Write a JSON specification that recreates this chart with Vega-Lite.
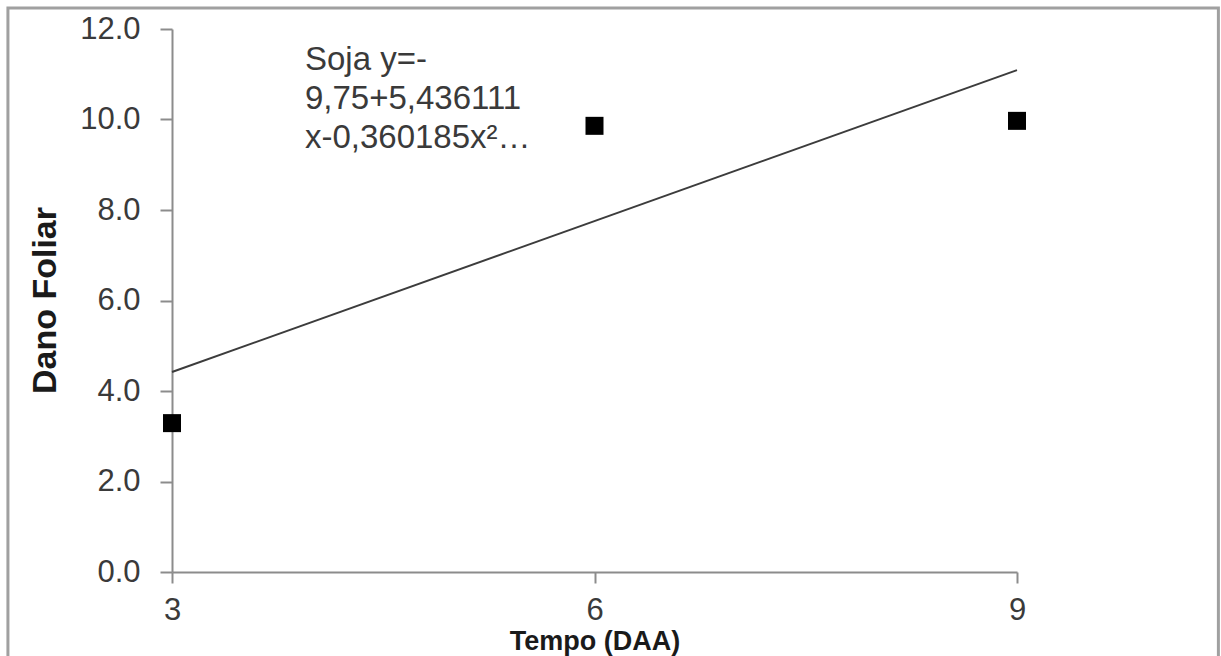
{
  "$schema": "https://vega.github.io/schema/vega-lite/v6.json",
  "autosize": {"type": "none"},
  "width": 845,
  "height": 543,
  "padding": {"left": 172, "top": 29, "right": 204, "bottom": 84},
  "background": "white",
  "config": {
    "view": {"stroke": null},
    "font": "Liberation Sans",
    "axis": {"grid": false, "domainColor": "#8c8c8c", "tickColor": "#8c8c8c", "domainWidth": 2, "tickWidth": 2, "labelColor": "#3a3a3a", "titleColor": "#1a1a1a", "labelFont": "Liberation Sans", "titleFont": "Liberation Sans", "labelFontSize": 31, "titleFontWeight": "bold"}
  },
  "datasets": {
    "obs": [
      {"tempo": 3, "dano": 3.29},
      {"tempo": 6, "dano": 9.86},
      {"tempo": 9, "dano": 9.97}
    ],
    "fit": [
      {"tempo": 3, "dano": 4.42},
      {"tempo": 9, "dano": 11.09}
    ],
    "note": [
      {"texto": "equacao"}
    ]
  },
  "layer": [
    {
      "data": {"name": "note"},
      "mark": {"type": "rect", "fill": null, "stroke": "#a0a0a0", "strokeWidth": 3, "clip": false},
      "encoding": {
        "x": {"datum": 1.835, "type": "quantitative", "scale": {"domain": [3, 9], "nice": false, "zero": false}},
        "x2": {"datum": 10.43},
        "y": {"datum": 12.464, "type": "quantitative"},
        "y2": {"datum": -1.99}
      }
    },
    {
      "data": {"name": "fit"},
      "mark": {"type": "line", "color": "#3c3c3c", "strokeWidth": 2},
      "encoding": {
        "x": {"field": "tempo", "type": "quantitative", "scale": {"domain": [3, 9], "nice": false, "zero": false},
          "axis": {"values": [3, 6, 9], "format": "d", "labelFlush": false, "title": "Tempo (DAA)", "titleFontSize": 27, "tickSize": 11, "labelPadding": 12, "titleY": 77, "titleBaseline": "alphabetic", "titleAnchor": "middle"}},
        "y": {"field": "dano", "type": "quantitative", "scale": {"domain": [0, 12], "nice": false},
          "axis": {"values": [0, 2, 4, 6, 8, 10, 12], "format": ".1f", "labelFlush": false, "title": "Dano Foliar", "titleFontSize": 34, "tickSize": 12, "labelPadding": 20, "titleX": -127, "titleY": 271, "titleAngle": -90, "titleAlign": "center", "titleBaseline": "middle"}}
      }
    },
    {
      "data": {"name": "obs"},
      "mark": {"type": "point", "shape": "square", "filled": true, "size": 324, "color": "#000000", "opacity": 1},
      "encoding": {
        "x": {"field": "tempo", "type": "quantitative"},
        "y": {"field": "dano", "type": "quantitative"}
      }
    },
    {
      "data": {"name": "note"},
      "mark": {"type": "text", "align": "left", "baseline": "alphabetic", "fontSize": 33, "lineHeight": 39, "color": "#3a3a3a", "font": "Liberation Sans", "text": ["Soja y=-", "9,75+5,436111", "x-0,360185x²…"]},
      "encoding": {
        "x": {"datum": 3.944, "type": "quantitative"},
        "y": {"datum": 11.094, "type": "quantitative"}
      }
    }
  ]
}
